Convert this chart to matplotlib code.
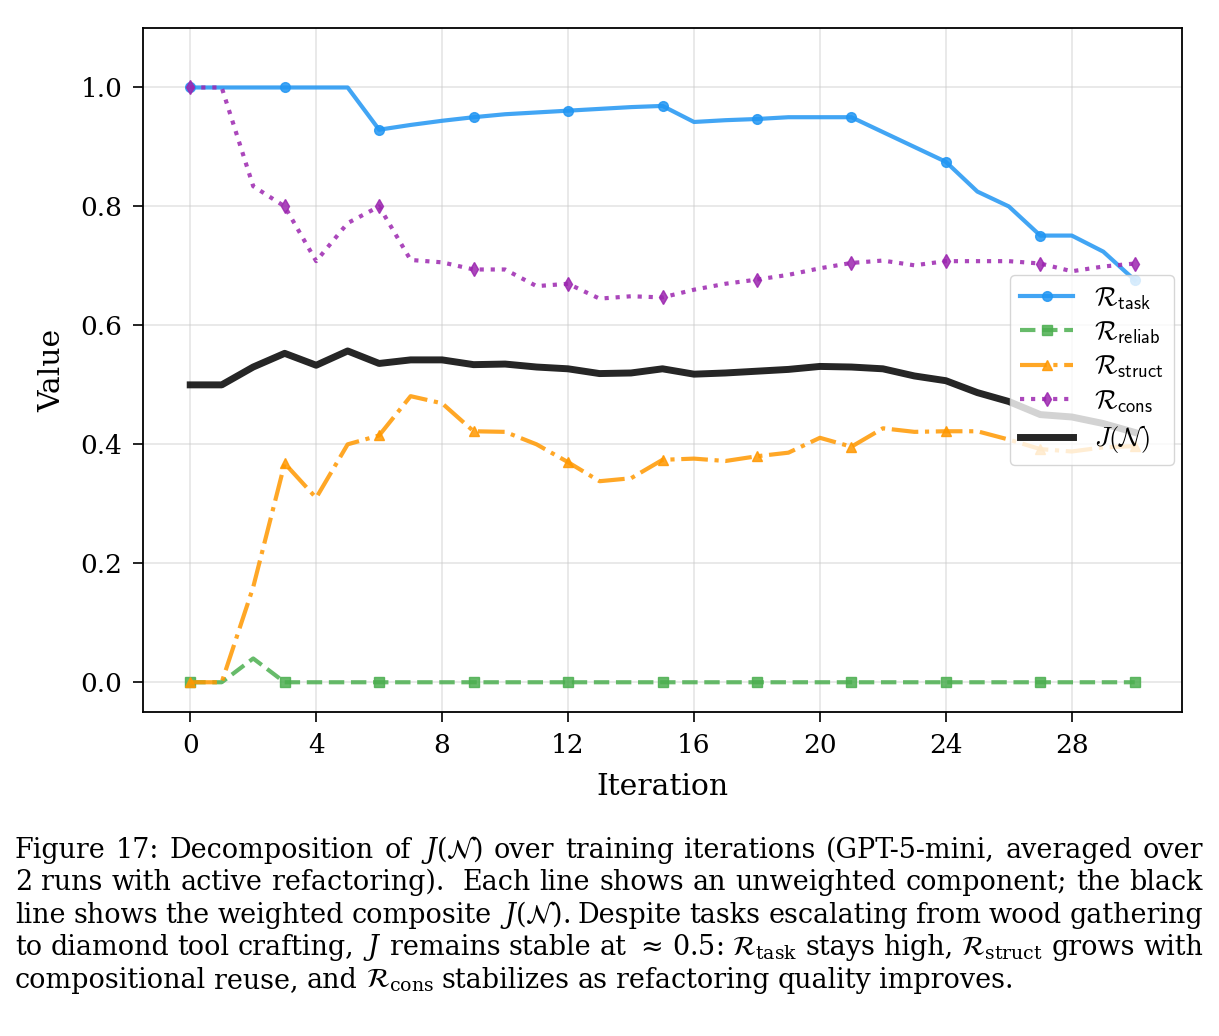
import matplotlib
matplotlib.use("Agg")
import matplotlib.pyplot as plt
from matplotlib.font_manager import FontProperties

plt.rcParams["font.family"] = "DejaVu Serif"

iters = list(range(31))
r_task = [1.0, 1.0, 1.0, 1.0, 1.0, 1.0, 0.929, 0.937, 0.944, 0.950, 0.955,
          0.958, 0.961, 0.964, 0.967, 0.969, 0.942, 0.945, 0.947, 0.950, 0.950,
          0.950, 0.925, 0.900, 0.875, 0.825, 0.800, 0.751, 0.751, 0.724, 0.676]
r_reliab = [0.0, 0.0, 0.040] + [0.0] * 28
r_struct = [0.0, 0.0, 0.160, 0.368, 0.310, 0.400, 0.415, 0.481, 0.469, 0.422,
            0.421, 0.400, 0.370, 0.338, 0.343, 0.374, 0.376, 0.372, 0.380,
            0.386, 0.411, 0.396, 0.427, 0.421, 0.422, 0.422, 0.408, 0.392,
            0.388, 0.395, 0.397]
r_cons = [1.0, 1.0, 0.834, 0.800, 0.708, 0.772, 0.800, 0.710, 0.706, 0.694,
          0.694, 0.666, 0.670, 0.645, 0.649, 0.647, 0.660, 0.670, 0.677, 0.685,
          0.696, 0.705, 0.709, 0.701, 0.708, 0.708, 0.708, 0.704, 0.691, 0.699,
          0.704]
j_comp = [0.500, 0.500, 0.530, 0.553, 0.533, 0.557, 0.536, 0.542, 0.542, 0.534,
          0.535, 0.530, 0.527, 0.519, 0.520, 0.527, 0.518, 0.520, 0.523, 0.526,
          0.531, 0.530, 0.527, 0.515, 0.507, 0.487, 0.472, 0.450, 0.446, 0.435,
          0.420]

caption = [
    r"Figure 17: Decomposition of $J(\mathcal{N})$ over training iterations (GPT-5-mini, averaged over",
    r"2 runs with active refactoring).  Each line shows an unweighted component; the black",
    r"line shows the weighted composite $J(\mathcal{N})$. Despite tasks escalating from wood gathering",
    r"to diamond tool crafting, $J$ remains stable at $\approx\,0.5$: $\mathcal{R}_{\mathrm{task}}$ stays high, $\mathcal{R}_{\mathrm{struct}}$ grows with",
    r"compositional reuse, and $\mathcal{R}_{\mathrm{cons}}$ stabilizes as refactoring quality improves.",
]

W, H = 1219, 1036
fig = plt.figure(figsize=(W / 100, H / 100), dpi=100)
ax = fig.add_axes([143 / W, 1 - 712 / H, (1182 - 143) / W, (712 - 28) / H])

ax.plot(iters, r_task, color="#2196F3", ls="-", marker="o", lw=3, ms=7,
        markevery=3, alpha=0.85, label=r"$\mathcal{R}_{\mathsf{task}}$")
ax.plot(iters, r_reliab, color="#4CAF50", ls="--", marker="s", lw=3, ms=6.5,
        markevery=3, alpha=0.85, label=r"$\mathcal{R}_{\mathsf{reliab}}$")
ax.plot(iters, r_struct, color="#FF9800", ls="-.", marker="^", lw=3, ms=7,
        markevery=3, alpha=0.85, label=r"$\mathcal{R}_{\mathsf{struct}}$")
ax.plot(iters, r_cons, color="#9C27B0", ls=":", marker="d", lw=3, ms=7,
        markevery=3, alpha=0.85, label=r"$\mathcal{R}_{\mathsf{cons}}$")
ax.plot(iters, j_comp, color="black", ls="-", lw=5, alpha=0.85,
        label=r"$J(\mathcal{N})$")

ax.set_xlim(-1.5, 31.5)
ax.set_ylim(-0.05, 1.1)
ax.set_xticks(range(0, 29, 4))
ax.set_yticks([0.0, 0.2, 0.4, 0.6, 0.8, 1.0])
ax.tick_params(labelsize=19, length=7, width=1.2, pad=8)
ax.grid(True, color="#cccccc", alpha=0.5, lw=1.2)
for s in ax.spines.values():
    s.set_linewidth(1.3)
ax.set_xlabel("Iteration", fontsize=21.5, labelpad=11)
ax.set_ylabel("Value", fontsize=21.5, labelpad=10)
ax.legend(loc="center right", borderaxespad=0.3, labelspacing=0.3,
          prop=FontProperties(family="DejaVu Serif", size=19, math_fontfamily="cm"))

# caption, justified line by line; font size chosen so the fullest line fits
fig.canvas.draw()
rend = fig.canvas.get_renderer()
x0, x1 = 15 / W, 1203 / W
baselines = [858, 890, 923, 955, 988]


def make_line(line, yb, size):
    words = line.split(" ")
    ts = [fig.text(0, 1 - yb / H, w, fontsize=size, family="DejaVu Serif",
                   math_fontfamily="dejavuserif", va="baseline") for w in words]
    ws = [t.get_window_extent(rend).width / W for t in ts]
    return ts, ws


size = 20
space = 0.3 * size * 100 / 72 / W
fits = []
for line, yb in zip(caption[:-1], baselines):
    ts, ws = make_line(line, yb, size)
    natural = sum(ws) + space * (len(ws) - 1)
    fits.append((x1 - x0) / natural)
    for t in ts:
        t.remove()
size = min(20, size * min(fits))

for k, (line, yb) in enumerate(zip(caption, baselines)):
    ts, ws = make_line(line, yb, size)
    if k < len(caption) - 1:
        gap = (x1 - x0 - sum(ws)) / (len(ws) - 1)
    else:
        gap = 0.3 * size * 100 / 72 / W
    x = x0
    for t, w in zip(ts, ws):
        t.set_x(x)
        x += w + gap

fig.savefig("out.png", dpi=100)
